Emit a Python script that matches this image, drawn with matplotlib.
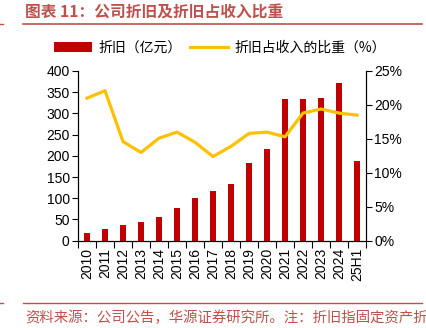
import matplotlib
matplotlib.use("Agg")
import matplotlib.pyplot as plt
import numpy as np

categories = ["2010","2011","2012","2013","2014","2015","2016","2017","2018","2019","2020","2021","2022","2023","2024","25H1"]
depreciation = [17, 28, 37, 43, 55, 78, 100, 116, 134, 183, 216, 335, 334, 337, 371, 187]
ratio_pct = [21.0, 22.1, 14.6, 13.0, 15.1, 16.0, 14.5, 12.4, 13.9, 15.8, 16.0, 15.3, 18.8, 19.4, 18.8, 18.5]

title = "图表 11：公司折旧及折旧占收入比重"
source = "资料来源：公司公告，华源证券研究所。注：折旧指固定资产折"
bar_label = "折旧（亿元）"
line_label = "折旧占收入的比重（%）"

CJK = ["Noto Sans CJK SC", "DejaVu Sans"]
NUM = ["Liberation Sans", "DejaVu Sans"]
plt.rcParams['font.family'] = NUM

W, H = 426, 328
fig = plt.figure(figsize=(W/100, H/100), dpi=100)

def fx(px): return px / W
def fy(py): return 1 - py / H

ax = fig.add_axes([fx(78), fy(240.7), fx(366) - fx(78), fy(71) - fy(240.7)])
ax2 = ax.twinx()

x = np.arange(len(categories))
red = "#C00000"
yellow = "#FFC000"
bars = ax.bar(x, depreciation, width=0.33, color=red, zorder=2)
ln, = ax2.plot(x, ratio_pct, color=yellow, lw=2.3, zorder=3)

ax.set_xlim(-0.5, len(categories) - 0.5)
ax.set_ylim(0, 400)
ax.set_yticks(range(0, 401, 50))
ax2.set_ylim(0, 25)
ax2.set_yticks(range(0, 26, 5))
ax2.set_yticklabels([f"{v}%" for v in range(0, 26, 5)])

ax.set_xticks(x)
ax.set_xticklabels(categories, rotation=90, fontsize=10)
ax.tick_params(axis='x', length=0, pad=5)
ax.set_xticks(np.arange(-0.5, len(categories), 1), minor=True)
ax.tick_params(axis='x', which='minor', length=5, width=0.8, direction='out')

ax.tick_params(axis='y', labelsize=10, length=4, width=0.8, pad=2)
ax2.tick_params(axis='y', labelsize=10, length=4, width=0.8, pad=2)

for a in (ax, ax2):
    a.spines['top'].set_visible(False)
    for s in ('left', 'right', 'bottom'):
        a.spines[s].set_linewidth(0.8)

# Title
fig.text(fx(25), fy(13), title, fontsize=11.3, fontweight='bold', color="#C0504D",
         family=CJK, va='center', ha='left')
fig.add_artist(plt.Line2D([fx(23), fx(422)], [fy(24), fy(24)], color="#C0504D", lw=1.2))
fig.add_artist(plt.Line2D([fx(0), fx(3)], [fy(24), fy(24)], color="#C0504D", lw=1.0))

# Bottom rule and source
fig.add_artist(plt.Line2D([fx(23), fx(422)], [fy(303), fy(303)], color="#C0504D", lw=1.0))
fig.add_artist(plt.Line2D([fx(0), fx(3)], [fy(303), fy(303)], color="#C0504D", lw=1.0))
fig.text(fx(25), fy(318), source, fontsize=10.4, color="#C0504D", family=CJK, va='center', ha='left')

# Legend
leg = fig.legend([bars, ln], [bar_label, line_label], loc='center', bbox_to_anchor=(fx(220), fy(48)),
                 ncol=2, frameon=False, prop={'family': CJK, 'size': 10},
                 handlelength=2.7, handleheight=0.7, columnspacing=0.6, handletextpad=0.5)

fig.savefig("out.png", dpi=100)
